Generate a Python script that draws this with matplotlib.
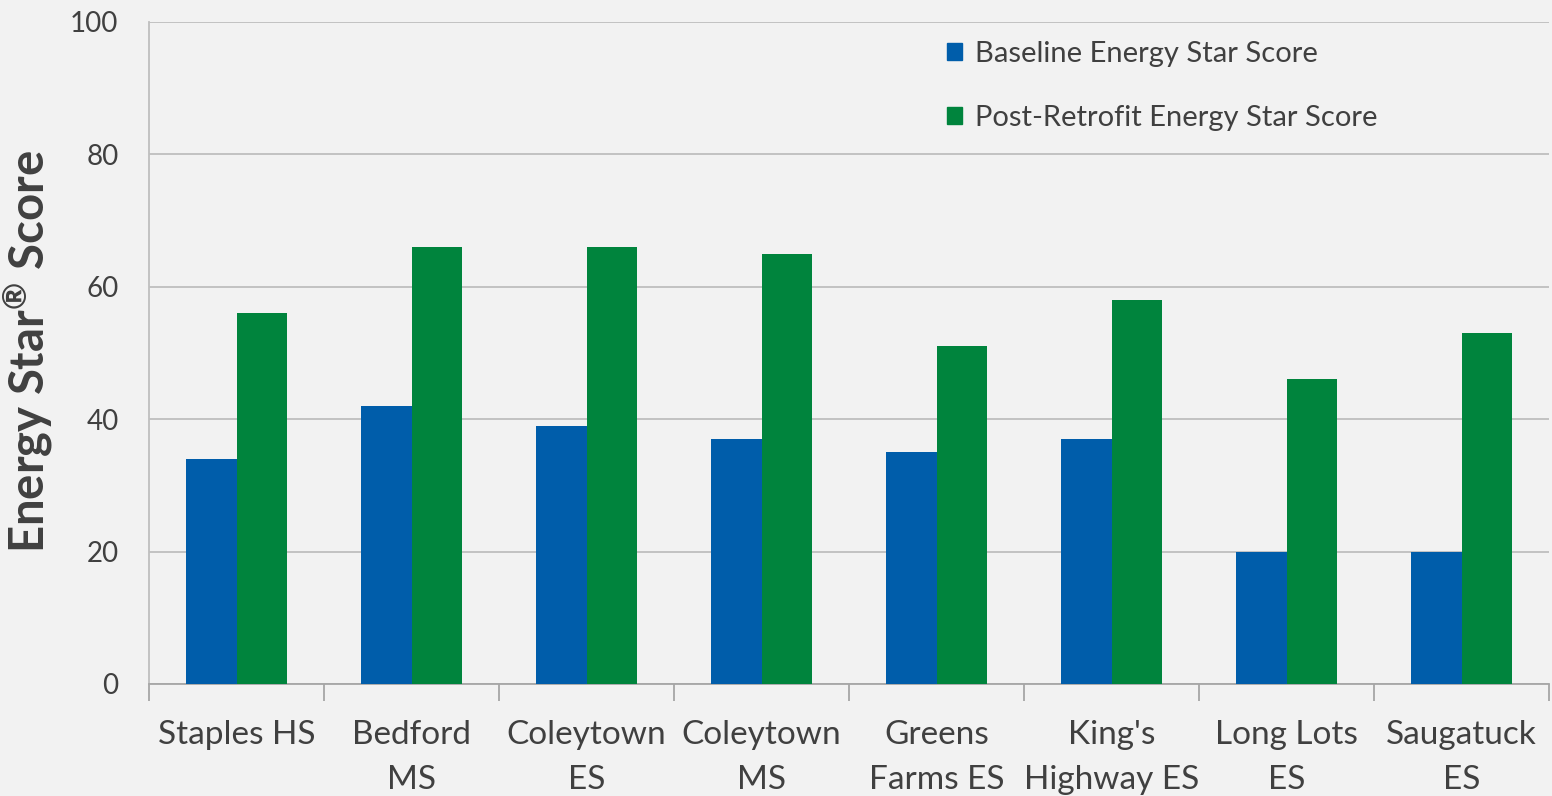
import matplotlib
matplotlib.use("Agg")
import matplotlib.pyplot as plt
import numpy as np
from matplotlib.patches import Patch

BLUE, GREEN, BG, TXT, GRID = "#005DAA", "#00843D", "#F2F2F2", "#404040", "#BFBFBF"

schools = ["Staples HS", "Bedford\nMS", "Coleytown\nES", "Coleytown\nMS", "Greens\nFarms ES",
           "King's\nHighway ES", "Long Lots\nES", "Saugatuck\nES"]
baseline = [34, 42, 39, 37, 35, 37, 20, 20]
post_retrofit = [56, 66, 66, 65, 51, 58, 46, 53]

plt.rcParams["font.family"] = ["Lato", "DejaVu Sans"]
plt.rcParams["mathtext.fontset"] = "custom"
plt.rcParams["mathtext.rm"] = "Lato"
plt.rcParams["mathtext.bf"] = "Lato:bold"

fig = plt.figure(figsize=(15.52, 7.96), dpi=100, facecolor=BG)
ax = fig.add_axes([149 / 1552, 1 - 684 / 796, 1400 / 1552, 662 / 796], facecolor=BG)

x = np.arange(len(schools))
w = 0.286
ax.bar(x - w / 2, baseline, w, color=BLUE, zorder=3)
ax.bar(x + w / 2, post_retrofit, w, color=GREEN, zorder=3)

ax.set_xlim(-0.5, len(schools) - 0.5)
ax.set_ylim(0, 100)
ax.set_yticks(range(0, 101, 20))
ax.grid(axis="y", color=GRID, linewidth=1.3, zorder=0)
ax.tick_params(axis="y", length=0, pad=22, labelsize=20, labelcolor=TXT)

ax.set_xticks(x)
ax.set_xticklabels(schools, fontsize=24, color=TXT, linespacing=1.62)
ax.tick_params(axis="x", length=0, pad=26)
ax.set_xticks(np.arange(-0.5, len(schools)), minor=True)
ax.tick_params(axis="x", which="minor", length=12, width=1.3, color="#A6A6A6")

for s in ["top", "right"]:
    ax.spines[s].set_visible(False)
ax.spines["left"].set_color(GRID)
ax.spines["left"].set_linewidth(1.3)
ax.spines["bottom"].set_color("#A6A6A6")
ax.spines["bottom"].set_linewidth(1.3)

ax.set_ylabel("Energy Star$^{\\mathbf{\u00ae}}$ Score", fontsize=34, fontweight="bold", color=TXT)
ax.yaxis.set_label_coords((55 - 149) / 1400, (684 - 352) / 662)

handles = [Patch(color=BLUE), Patch(color=GREEN)]
fig.legend(handles, ["Baseline Energy Star Score", "Post-Retrofit Energy Star Score"],
           loc="upper left", bbox_to_anchor=(921 / 1552, 1 - 15 / 796), frameon=False,
           fontsize=21, labelcolor=TXT, handlelength=0.52, handleheight=0.52,
           handletextpad=0.42, labelspacing=1.3)

fig.savefig("out.png", dpi=100, facecolor=BG)
